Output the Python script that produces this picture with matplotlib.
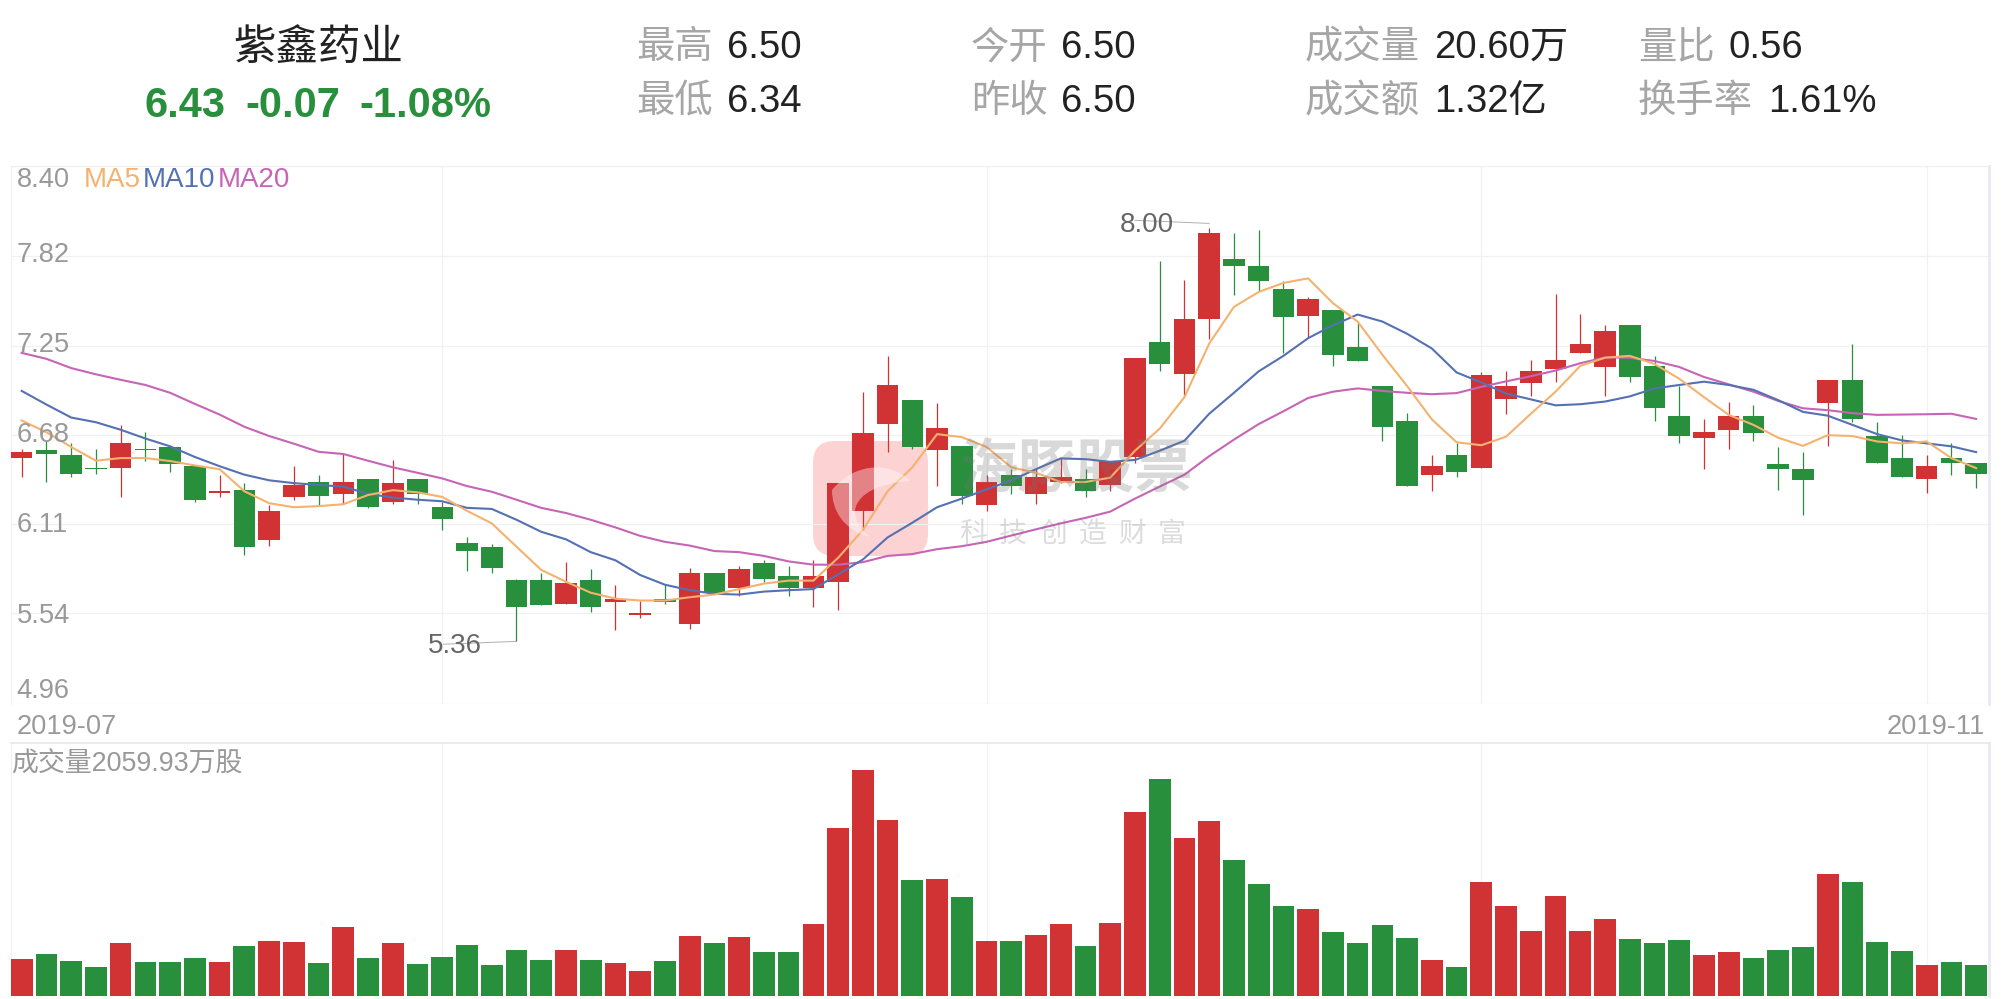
import matplotlib
matplotlib.use('Agg')
import matplotlib.pyplot as plt
from matplotlib.patches import FancyBboxPatch, PathPatch
from matplotlib.path import Path

plt.rcParams['font.family'] = ['Liberation Sans', 'Noto Sans CJK SC', 'DejaVu Sans']

# day candles
opens = [6.53, 6.58, 6.55, 6.47, 6.47, 6.59, 6.60, 6.48, 6.31, 6.33,
         6.01, 6.28, 6.38, 6.30, 6.40, 6.25, 6.40, 6.22, 5.99, 5.96,
         5.75, 5.75, 5.60, 5.75, 5.61, 5.53, 5.63, 5.47, 5.80, 5.70,
         5.86, 5.78, 5.70, 5.74, 6.19, 6.75, 6.90, 6.58, 6.61, 6.23,
         6.42, 6.30, 6.38, 6.40, 6.36, 6.54, 7.27, 7.07, 7.42, 7.80,
         7.76, 7.61, 7.44, 7.48, 7.24, 6.99, 6.77, 6.42, 6.55, 6.47,
         6.91, 7.01, 7.10, 7.20, 7.11, 7.38, 7.12, 6.80, 6.66, 6.71,
         6.80, 6.49, 6.46, 6.88, 7.03, 6.67, 6.53, 6.40, 6.53, 6.50]
closes = [6.57, 6.56, 6.43, 6.46, 6.63, 6.58, 6.49, 6.26, 6.32, 5.96,
          6.19, 6.36, 6.29, 6.38, 6.22, 6.37, 6.30, 6.14, 5.94, 5.83,
          5.58, 5.59, 5.73, 5.58, 5.63, 5.54, 5.61, 5.80, 5.67, 5.82,
          5.76, 5.70, 5.78, 6.37, 6.69, 7.00, 6.60, 6.72, 6.29, 6.38,
          6.35, 6.41, 6.41, 6.32, 6.51, 7.17, 7.13, 7.42, 7.97, 7.76,
          7.66, 7.43, 7.55, 7.19, 7.15, 6.73, 6.35, 6.48, 6.44, 7.06,
          6.99, 7.09, 7.16, 7.26, 7.34, 7.05, 6.85, 6.67, 6.70, 6.80,
          6.69, 6.46, 6.39, 7.03, 6.78, 6.50, 6.41, 6.48, 6.50, 6.43]
highs = [6.59, 6.64, 6.63, 6.59, 6.74, 6.70, 6.61, 6.48, 6.42, 6.37,
         6.23, 6.48, 6.42, 6.56, 6.40, 6.52, 6.40, 6.25, 6.03, 5.98,
         5.76, 5.80, 5.87, 5.82, 5.72, 5.62, 5.72, 5.83, 5.80, 5.84,
         5.88, 5.84, 5.88, 6.37, 6.95, 7.18, 6.90, 6.88, 6.61, 6.42,
         6.46, 6.47, 6.53, 6.46, 6.51, 7.17, 7.79, 7.67, 8.00, 7.97,
         7.99, 7.66, 7.56, 7.48, 7.40, 6.99, 6.82, 6.55, 6.63, 7.08,
         7.09, 7.16, 7.58, 7.45, 7.38, 7.38, 7.18, 6.99, 6.78, 6.89,
         6.87, 6.60, 6.57, 7.03, 7.26, 6.76, 6.68, 6.55, 6.63, 6.50]
lows = [6.41, 6.38, 6.41, 6.43, 6.28, 6.51, 6.44, 6.25, 6.28, 5.91,
        5.97, 6.26, 6.23, 6.24, 6.21, 6.24, 6.24, 6.07, 5.81, 5.80,
        5.36, 5.59, 5.60, 5.55, 5.43, 5.51, 5.60, 5.44, 5.67, 5.65,
        5.74, 5.65, 5.58, 5.56, 6.07, 6.57, 6.59, 6.35, 6.24, 6.19,
        6.30, 6.24, 6.37, 6.28, 6.32, 6.50, 7.09, 6.93, 7.29, 7.57,
        7.60, 7.20, 7.30, 7.12, 7.15, 6.64, 6.35, 6.32, 6.41, 6.47,
        6.81, 6.93, 7.02, 7.20, 6.93, 7.02, 6.77, 6.63, 6.46, 6.59,
        6.64, 6.33, 6.17, 6.61, 6.76, 6.50, 6.41, 6.31, 6.42, 6.34]

ma5 = [6.771, 6.696, 6.602, 6.514, 6.531, 6.531, 6.512, 6.484, 6.460, 6.319,
       6.243, 6.217, 6.224, 6.236, 6.295, 6.326, 6.312, 6.283, 6.194, 6.114,
       5.965, 5.817, 5.741, 5.671, 5.633, 5.621, 5.621, 5.642, 5.659, 5.694,
       5.729, 5.748, 5.748, 5.894, 6.071, 6.319, 6.472, 6.684, 6.665, 6.602,
       6.472, 6.437, 6.378, 6.378, 6.406, 6.578, 6.719, 6.920, 7.262, 7.497,
       7.592, 7.650, 7.679, 7.521, 7.403, 7.191, 6.991, 6.778, 6.632, 6.613,
       6.668, 6.814, 6.955, 7.120, 7.172, 7.184, 7.132, 7.038, 6.920, 6.807,
       6.743, 6.661, 6.609, 6.677, 6.672, 6.637, 6.625, 6.637, 6.531, 6.467]
ma10 = [6.960, 6.873, 6.790, 6.760, 6.712, 6.656, 6.606, 6.538, 6.479, 6.425,
        6.389, 6.371, 6.359, 6.349, 6.302, 6.279, 6.265, 6.255, 6.213, 6.206,
        6.137, 6.060, 6.012, 5.930, 5.878, 5.784, 5.722, 5.687, 5.664, 5.659,
        5.678, 5.687, 5.694, 5.788, 5.883, 6.024, 6.118, 6.217, 6.272, 6.331,
        6.389, 6.460, 6.529, 6.524, 6.507, 6.519, 6.578, 6.642, 6.814, 6.948,
        7.085, 7.184, 7.297, 7.379, 7.448, 7.403, 7.325, 7.231, 7.078, 7.014,
        6.943, 6.906, 6.868, 6.875, 6.892, 6.925, 6.976, 6.998, 7.019, 6.998,
        6.967, 6.901, 6.826, 6.802, 6.743, 6.684, 6.644, 6.625, 6.606, 6.569]
ma20 = [7.203, 7.165, 7.106, 7.066, 7.031, 6.998, 6.948, 6.877, 6.809, 6.731,
        6.672, 6.623, 6.571, 6.557, 6.514, 6.472, 6.437, 6.401, 6.352, 6.316,
        6.265, 6.213, 6.180, 6.137, 6.088, 6.034, 5.996, 5.972, 5.937, 5.930,
        5.906, 5.871, 5.850, 5.850, 5.866, 5.906, 5.918, 5.949, 5.968, 5.996,
        6.036, 6.076, 6.114, 6.149, 6.189, 6.272, 6.349, 6.425, 6.543, 6.649,
        6.748, 6.830, 6.915, 6.955, 6.976, 6.960, 6.948, 6.939, 6.946, 6.986,
        7.021, 7.054, 7.090, 7.137, 7.174, 7.172, 7.151, 7.113, 7.049, 7.002,
        6.955, 6.896, 6.849, 6.837, 6.818, 6.807, 6.809, 6.811, 6.814, 6.781]

# volume in wan shares
volumes = [2463, 2799, 2329, 1926, 3538, 2261, 2261, 2530, 2261, 3336,
           3672, 3605, 2194, 4612, 2530, 3538, 2127, 2597, 3403, 2060,
           3067, 2396, 3067, 2396, 2194, 1657, 2329, 4008, 3538, 3941,
           2933, 2933, 4814, 11262, 15158, 11800, 7769, 7837, 6627, 3672,
           3672, 4075, 4814, 3336, 4881, 12337, 14554, 10590, 11732, 9113,
           7501, 6023, 5821, 4276, 3538, 4747, 3873, 2396, 1926, 7635,
           6023, 4344, 6695, 4344, 5150, 3806, 3538, 3739, 2732, 2933,
           2530, 3067, 3269, 8172, 7635, 3605, 3000, 2060, 2261, 2060]

price_ticks = [8.40, 7.82, 7.25, 6.68, 6.11, 5.54, 4.96]
price_labels = ['8.40', '7.82', '7.25', '6.68', '6.11', '5.54', '4.96']
month_days = [17, 39, 59, 77]

RED = '#d13234'
GREEN = '#288f3c'
GRID = '#f1f1f3'
W, H = 2001.0, 999.0


def px_axes(x0, y0, x1, y1):
    return fig.add_axes([x0 / W, 1 - y1 / H, (x1 - x0) / W, (y1 - y0) / H])


def overlay():
    a = fig.add_axes([0, 0, 1, 1])
    a.set_xlim(0, W)
    a.set_ylim(H, 0)
    a.axis('off')
    a.patch.set_alpha(0)
    return a


fig = plt.figure(figsize=(20.01, 9.99), dpi=100, facecolor='white')

# the pink logo sits under the candles
under = overlay()
logo = FancyBboxPatch((833, 461), 75, 75, boxstyle='round,pad=20,rounding_size=22',
                      facecolor='#fcd2d2', edgecolor='none')
under.add_patch(logo)

ax = px_axes(11, 165.5, 1989, 704)
vol = px_axes(11, 743.3, 1989, 995.7)

days = list(range(len(opens)))
colors = [RED if c >= o else GREEN for o, c in zip(opens, closes)]

# price pane
ax.vlines(days, lows, highs, colors=colors, linewidth=0.9, zorder=3)
ax.bar(days, [abs(c - o) for o, c in zip(opens, closes)],
       bottom=[min(o, c) for o, c in zip(opens, closes)],
       width=0.87, color=colors, zorder=4)
ax.plot(days, ma20, color='#c665b6', linewidth=1.5, zorder=5)
ax.plot(days, ma10, color='#5371b3', linewidth=1.5, zorder=6)
ax.plot(days, ma5, color='#f5b26f', linewidth=1.5, zorder=7)

ax.set_xlim(-0.432, 79.52)
ax.set_ylim(4.96, 8.40)
ax.set_yticks(price_ticks)
ax.set_yticklabels([])
ax.tick_params(axis='y', length=0)
ax.set_xticks(month_days)
ax.set_xticklabels([])
ax.tick_params(axis='x', length=0)
ax.grid(True, color=GRID, linewidth=0.9, zorder=0)
ax.set_axisbelow(True)

# volume pane
vol.bar(days, volumes, width=0.877, color=colors, zorder=3)
vol.set_xlim(-0.432, 79.52)
vol.set_ylim(0, 16950)
vol.set_xticks(month_days)
vol.set_xticklabels([])
vol.set_yticks([])
vol.tick_params(axis='x', length=0)
vol.grid(True, axis='x', color=GRID, linewidth=0.9, zorder=0)
vol.set_axisbelow(True)

for a in (ax, vol):
    a.patch.set_alpha(0)
    a.spines['bottom'].set_visible(False)
    a.spines['left'].set_color('#f0f0f2')
    a.spines['top'].set_color('#eeeef2')
    a.spines['right'].set_color('#e9e9f1')
    a.spines['right'].set_linewidth(2)
vol.spines['top'].set_color('#e6e6ec')
vol.spines['top'].set_linewidth(1.2)

# leader lines of the high / low marks
ax.plot([20, 20, 17.05], [5.36, 5.36, 5.342], color='#b0b0b0', linewidth=0.7, zorder=2)
ax.plot([48, 48, 45], [8.03, 8.03, 8.05], color='#b0b0b0', linewidth=0.7, zorder=2)

# overlay in pixel coordinates for header, captions and watermark
top = overlay()

fin = Path([(832, 490), (857, 460), (893, 463), (910, 481),
            (880, 483), (858, 493), (855, 510),
            (855, 523), (863, 532), (870, 537),
            (843, 530), (832, 510), (832, 490)],
           [Path.MOVETO, Path.CURVE4, Path.CURVE4, Path.CURVE4,
            Path.CURVE4, Path.CURVE4, Path.CURVE4,
            Path.CURVE4, Path.CURVE4, Path.CURVE4,
            Path.CURVE4, Path.CURVE4, Path.CURVE4])
top.add_patch(PathPatch(fin, facecolor='white', edgecolor='none', alpha=0.4, zorder=21))
top.text(1077, 472, '海豚股票', fontsize=42, fontweight='bold', color='#777777', alpha=0.28,
         ha='center', va='center', zorder=22)
for i, ch in enumerate('科技创造财富'):
    top.text(973.3 + i * 39.7, 535, ch, fontsize=20, color='#777777', alpha=0.25,
             ha='center', va='center', zorder=22)

# tick labels and captions
cap = dict(color='#999999', fontsize=19.6, va='center')
label_y = [180, 255.5, 345.5, 435.5, 525.5, 616, 691.5]
for label, y in zip(price_labels, label_y):
    top.text(16.5, y, label, **cap)
top.text(17, 726.5, '2019-07', **cap)
top.text(1985, 726.5, '2019-11', ha='right', **cap)
top.text(11.5, 764.5, '成交量2059.93万股', color='#999999', fontsize=19.4, va='center')
top.text(83.5, 180, 'MA5', color='#f5b26f', fontsize=20, va='center')
top.text(143, 180, 'MA10', color='#5371b3', fontsize=20, va='center')
top.text(218, 180, 'MA20', color='#c665b6', fontsize=20, va='center')
top.text(481.5, 646, '5.36', color='#666666', fontsize=20, ha='right', va='center')
top.text(1174, 225, '8.00', color='#666666', fontsize=20, ha='right', va='center')

# header
top.text(318, 49, '紫鑫药业', color='#222222', fontsize=30.6, ha='center', va='center')
top.text(145, 106, '6.43', color=GREEN, fontsize=30, fontweight='bold', va='center')
top.text(245, 106, '-0.07', color=GREEN, fontsize=30, fontweight='bold', va='center')
top.text(359, 106, '-1.08%', color=GREEN, fontsize=30, fontweight='bold', va='center')

stats = [(636, 727, 48, '最高', '6.50'), (636, 727, 102, '最低', '6.34'),
         (971, 1061, 48, '今开', '6.50'), (971, 1061, 102, '昨收', '6.50'),
         (1305, 1434, 48, '成交量', '20.60万'), (1305, 1434, 102, '成交额', '1.32亿'),
         (1638, 1728, 48, '量比', '0.56'), (1638, 1768, 102, '换手率', '1.61%')]
for lx, vx, y, name, value in stats:
    top.text(lx, y, name, color='#a6a6a6', fontsize=27.6, va='center')
    top.text(vx, y, value, color='#222222', fontsize=27.6, va='center')

fig.savefig('out.png', dpi=100)
